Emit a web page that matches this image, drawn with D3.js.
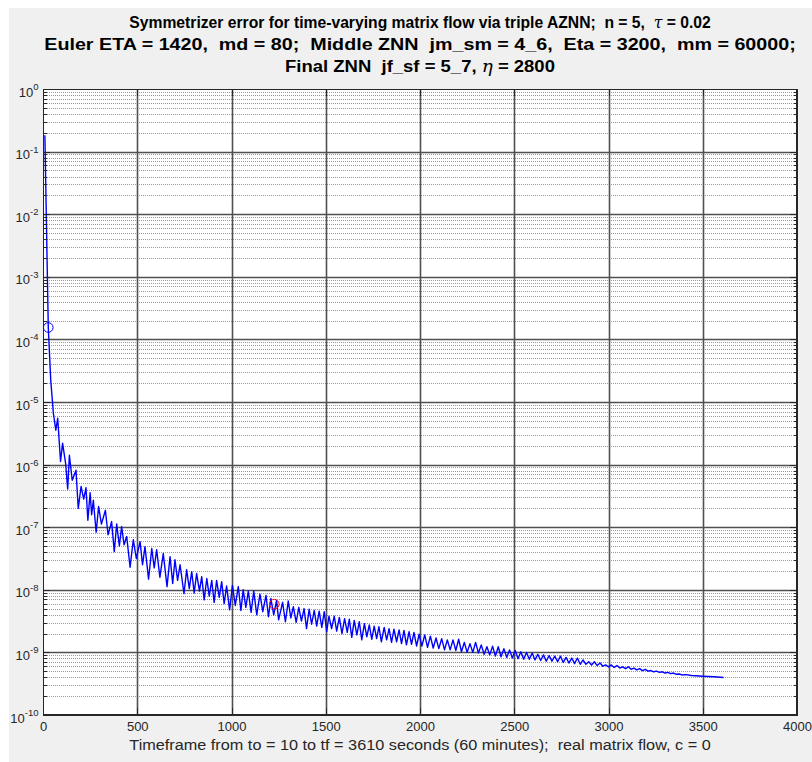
<!DOCTYPE html>
<html>
<head>
<meta charset="utf-8">
<script src="https://cdn.jsdelivr.net/npm/d3@7"></script>
<style>
body { margin: 0; background: #fff; }
text { font-family: "Liberation Sans", Arial, Helvetica, sans-serif; white-space: pre; }
</style>
</head>
<body>
<div id="chart"></div>
<script>
// title rows: [text, isGreek]
var title1 = [['Symmetrizer error for time-varying matrix flow via triple AZNN;  n = 5,  ', false], ['\u03c4', true], [' = 0.02', false]];
var title2 = [['Euler ETA = 1420,  md = 80;  Middle ZNN  jm_sm = 4_6,  Eta = 3200,  mm = 60000;', false]];
var title3 = [['Final ZNN  jf_sf = 5_7, ', false], ['\u03b7', true], [' = 2800', false]];
var xLabel = 'Timeframe from to = 10 to tf = 3610 seconds (60 minutes);  real matrix flow, c = 0';

var xTicks = [0, 500, 1000, 1500, 2000, 2500, 3000, 3500, 4000];
var yDecades = [-10, -9, -8, -7, -6, -5, -4, -3, -2, -1, 0];
var minorMult = [2, 3, 4, 5, 6, 7, 8, 9];

// error curve: time (s) and log10 of the error
var timeSec = [
	10, 28, 41, 55, 68, 78, 93, 104, 120, 131,
	140, 155, 175, 187, 202, 216, 228, 238, 250, 258,
	267, 282, 295, 310, 331, 345, 364, 378, 391, 405,
	417, 430, 444, 462, 479, 495, 515, 528, 541, 560,
	577, 590, 603, 620, 638, 658, 674, 688, 700, 714,
	727, 748, 762, 776, 789, 802, 815, 830, 842, 855,
	869, 882, 895, 908, 921, 935, 948, 961, 974, 990,
	1005, 1020, 1036, 1050, 1062, 1076, 1089, 1104, 1118, 1134,
	1151, 1166, 1183, 1196, 1209, 1224, 1239, 1250, 1271, 1286,
	1301, 1315, 1328, 1343, 1357, 1371, 1385, 1398, 1412, 1425,
	1439, 1452, 1465, 1479, 1492, 1505, 1517, 1531, 1545, 1558,
	1572, 1586, 1600, 1614, 1625, 1638, 1651, 1665, 1678, 1691,
	1705, 1718, 1731, 1744, 1757, 1770, 1782, 1795, 1810, 1823,
	1836, 1849, 1862, 1876, 1889, 1902, 1915, 1928, 1942, 1955,
	1968, 1982, 1995, 2010, 2025, 2040, 2055, 2070, 2085, 2100,
	2115, 2130, 2145, 2160, 2175, 2190, 2205, 2220, 2235, 2250,
	2265, 2280, 2295, 2310, 2325, 2340, 2355, 2370, 2385, 2400,
	2415, 2430, 2445, 2460, 2475, 2490, 2505, 2520, 2535, 2550,
	2565, 2580, 2595, 2610, 2625, 2640, 2655, 2670, 2685, 2700,
	2715, 2730, 2745, 2760, 2775, 2790, 2805, 2820, 2835, 2850,
	2865, 2880, 2895, 2910, 2925, 2940, 2955, 2970, 2985, 3000,
	3015, 3030, 3045, 3060, 3075, 3090, 3105, 3120, 3135, 3150,
	3165, 3180, 3195, 3210, 3225, 3240, 3255, 3270, 3285, 3300,
	3315, 3330, 3345, 3360, 3375, 3390, 3410, 3440, 3500, 3560, 3610
];
var errExp = [
	-0.74, -3.81, -4.65, -5.18, -5.45, -5.26, -5.95, -5.66, -5.98, -6.39,
	-5.85, -6.25, -6.09, -6.70, -6.35, -6.55, -6.37, -6.89, -6.45, -6.80,
	-6.57, -7.08, -6.67, -6.95, -6.73, -7.12, -6.91, -7.39, -6.95, -7.30,
	-6.99, -7.28, -7.15, -7.64, -7.20, -7.50, -7.23, -7.60, -7.31, -7.83,
	-7.34, -7.65, -7.36, -7.80, -7.42, -7.95, -7.47, -7.90, -7.52, -7.85,
	-7.60, -8.06, -7.68, -7.98, -7.71, -8.05, -7.74, -8.02, -7.79, -8.16,
	-7.82, -8.10, -7.85, -8.20, -7.85, -8.12, -7.87, -8.22, -7.94, -8.32,
	-7.93, -8.25, -7.95, -8.33, -8.00, -8.28, -8.02, -8.36, -8.02, -8.40,
	-8.07, -8.35, -8.09, -8.43, -8.14, -8.40, -8.17, -8.48, -8.20, -8.51,
	-8.18, -8.45, -8.27, -8.52, -8.28, -8.50, -8.30, -8.62, -8.31, -8.55,
	-8.33, -8.58, -8.34, -8.60, -8.35, -8.67, -8.42, -8.62, -8.42, -8.66,
	-8.44, -8.70, -8.46, -8.68, -8.47, -8.76, -8.49, -8.72, -8.51, -8.80,
	-8.54, -8.75, -8.56, -8.79, -8.58, -8.78, -8.59, -8.83, -8.60, -8.80,
	-8.62, -8.84, -8.63, -8.83, -8.64, -8.86, -8.65, -8.88, -8.67, -8.87,
	-8.68, -8.90, -8.71, -8.90, -8.72, -8.92, -8.74, -8.93, -8.77, -8.94,
	-8.78, -8.96, -8.80, -8.96, -8.80, -8.97, -8.79, -8.99, -8.84, -9.00,
	-8.86, -9.00, -8.84, -9.01, -8.88, -9.03, -8.91, -9.04, -8.90, -9.06,
	-8.91, -9.07, -8.94, -9.08, -8.96, -9.09, -8.97, -9.10, -8.99, -9.11,
	-9.00, -9.11, -9.01, -9.12, -9.03, -9.13, -9.04, -9.14, -9.05, -9.14,
	-9.06, -9.15, -9.06, -9.16, -9.08, -9.17, -9.09, -9.18, -9.09, -9.19,
	-9.12, -9.19, -9.15, -9.20, -9.15, -9.21, -9.17, -9.22, -9.20, -9.23,
	-9.20, -9.24, -9.21, -9.25, -9.23, -9.26, -9.23, -9.27, -9.25, -9.28,
	-9.26, -9.29, -9.27, -9.30, -9.29, -9.31, -9.30, -9.32, -9.31, -9.33,
	-9.32, -9.34, -9.33, -9.35, -9.345, -9.36, -9.355, -9.37, -9.38, -9.39, -9.40
];

// the two circle markers
var blueMark = {t: 28, e: 1.55e-4};
var redMark = {t: 1227, e: 5.9e-9};

var W = 812, H = 762;
var pLeft = 43, pRight = 797, pTop = 89, pBottom = 715;
var ink = '#262626';

var svg = d3.select('#chart')
			.append('svg')
			.attr('width', W)
			.attr('height', H);

//figure background
svg.append('rect')
	.attr('x', 9).attr('y', 8)
	.attr('width', W - 9).attr('height', H - 8)
	.attr('fill', '#f0f0f0');

svg.append('rect')
	.attr('x', pLeft).attr('y', pTop)
	.attr('width', pRight - pLeft).attr('height', pBottom - pTop)
	.attr('fill', '#fff');

var x = d3.scaleLinear().domain([0, 4000]).range([pLeft, pRight]);
var y = d3.scaleLog().domain([1e-10, 1]).range([pBottom, pTop]);

var decadeVals = yDecades.map(k => Math.pow(10, k));
var minorVals = [];
yDecades.slice(0, -1).forEach(k => minorMult.forEach(m => minorVals.push(m * Math.pow(10, k))));

//grid
var grid = svg.append('g');

grid.selectAll('.minor')
	.data(minorVals)
	.enter()
	.append('line')
	.attr('shape-rendering', 'crispEdges')
	.attr('x1', pLeft).attr('x2', pRight)
	.attr('y1', d => Math.round(y(d)) + 0.5)
	.attr('y2', d => Math.round(y(d)) + 0.5)
	.attr('stroke', '#9a9a9a')
	.attr('stroke-dasharray', '1,1');

grid.selectAll('.hmaj')
	.data(decadeVals.slice(1, -1))
	.enter()
	.append('line')
	.attr('x1', pLeft).attr('x2', pRight)
	.attr('y1', d => Math.round(y(d)) + 0.5)
	.attr('y2', d => Math.round(y(d)) + 0.5)
	.attr('stroke', '#505050')
	.attr('stroke-width', 1.6);

grid.selectAll('.vmaj')
	.data(xTicks.slice(1, -1))
	.enter()
	.append('line')
	.attr('y1', pTop).attr('y2', pBottom)
	.attr('x1', d => Math.round(x(d)) + 0.5)
	.attr('x2', d => Math.round(x(d)) + 0.5)
	.attr('stroke', '#505050')
	.attr('stroke-width', 1.6);

//curve
svg.append('clipPath').attr('id', 'clip')
	.append('rect')
	.attr('x', pLeft).attr('y', pTop)
	.attr('width', pRight - pLeft).attr('height', pBottom - pTop);

var curve = timeSec.map((t, i) => ({t: t, e: Math.pow(10, errExp[i])}));

var line = d3.line()
			.x(d => x(d.t))
			.y(d => y(d.e));

svg.append('path')
	.datum(curve)
	.attr('clip-path', 'url(#clip)')
	.attr('d', line)
	.attr('fill', 'none')
	.attr('stroke', '#0000ff')
	.attr('stroke-width', 1.4)
	.attr('stroke-linejoin', 'round');

svg.append('circle')
	.attr('cx', x(blueMark.t)).attr('cy', y(blueMark.e))
	.attr('r', 4.8)
	.attr('fill', 'none')
	.attr('stroke', '#0000ff');

svg.append('circle')
	.attr('cx', x(redMark.t)).attr('cy', y(redMark.e))
	.attr('r', 4.8)
	.attr('fill', 'none')
	.attr('stroke', '#ff0000');

//axes
function styleAxis(g) {
	g.attr('font-family', null).attr('font-size', null);
	g.selectAll('path').attr('stroke', ink);
	g.selectAll('line').attr('stroke', ink);
	g.selectAll('text').attr('fill', ink).style('font-size', '13px');
}

var axes = svg.append('g').attr('shape-rendering', 'crispEdges');

axes.append('g')
	.attr('transform', `translate(0,${pBottom})`)
	.call(d3.axisBottom(x).tickValues(xTicks).tickFormat(d3.format('d')).tickSizeInner(-7).tickSizeOuter(0).tickPadding(7))
	.call(styleAxis);

axes.append('g')
	.attr('transform', `translate(0,${pTop})`)
	.call(d3.axisTop(x).tickValues(xTicks).tickSizeInner(-7).tickSizeOuter(0).tickFormat(''))
	.call(styleAxis);

axes.append('g')
	.attr('transform', `translate(${pLeft},0)`)
	.call(d3.axisLeft(y).tickValues(decadeVals).tickSizeInner(-7).tickSizeOuter(0).tickFormat(''))
	.call(styleAxis);

axes.append('g')
	.attr('transform', `translate(${pLeft},0)`)
	.call(d3.axisLeft(y).tickValues(minorVals).tickSizeInner(-3.5).tickSizeOuter(0).tickFormat(''))
	.call(styleAxis);

axes.append('g')
	.attr('transform', `translate(${pRight},0)`)
	.call(d3.axisRight(y).tickValues(decadeVals).tickSizeInner(-7).tickSizeOuter(0).tickFormat(''))
	.call(styleAxis);

axes.append('g')
	.attr('transform', `translate(${pRight},0)`)
	.call(d3.axisRight(y).tickValues(minorVals).tickSizeInner(-3.5).tickSizeOuter(0).tickFormat(''))
	.call(styleAxis);

//y tick labels 10^k
yDecades.forEach(function(k) {
	var t = svg.append('text')
		.attr('x', 38.5)
		.attr('y', y(Math.pow(10, k)) + 7.5)
		.attr('text-anchor', 'end')
		.attr('fill', ink)
		.style('font-size', '13px');
	t.append('tspan').text('10');
	t.append('tspan').attr('dy', -6.5).style('font-size', '9.5px').text(k);
});

//box
axes.append('rect')
	.attr('x', pLeft + 0.5).attr('y', pTop + 0.5)
	.attr('width', pRight - pLeft - 1).attr('height', pBottom - pTop - 1)
	.attr('fill', 'none')
	.attr('stroke', ink);

//title
var cx = (pLeft + pRight) / 2;
function fitText(t, target) {
	var w = t.node().getBBox().width;
	t.attr('transform', `translate(${cx},0) scale(${target / w},1) translate(${-cx},0)`);
}

[[title1, 28, 582], [title2, 50, 752], [title3, 72, 270]].forEach(function(row) {
	var t = svg.append('text')
		.attr('x', cx).attr('y', row[1])
		.attr('text-anchor', 'middle')
		.attr('fill', '#000')
		.style('font-size', '17px')
		.style('font-weight', 'bold');
	row[0].forEach(function(part) {
		var s = t.append('tspan').text(part[0]);
		if (part[1]) s.style('font-style', 'italic').style('font-weight', 'normal').style('font-family', '"DejaVu Serif", serif');
	});
	fitText(t, row[2]);
});

var xl = svg.append('text')
	.attr('x', cx).attr('y', 750)
	.attr('text-anchor', 'middle')
	.attr('fill', ink)
	.style('font-size', '14.5px')
	.text(xLabel);
fitText(xl, 582);
</script>
</body>
</html>
